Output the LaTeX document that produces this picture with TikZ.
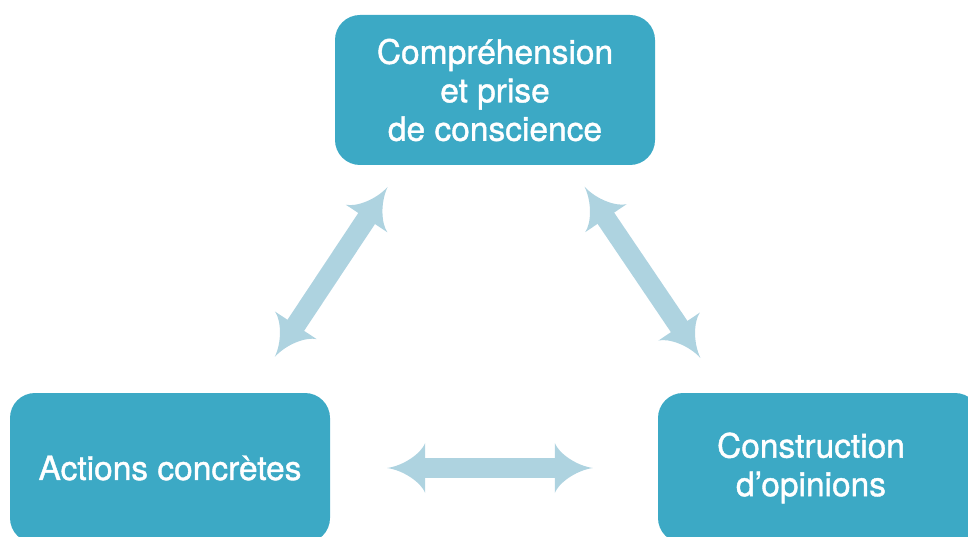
\documentclass[tikz,border=0pt]{standalone}
\usepackage{fontspec}
\setmainfont{TeX Gyre Heros}
\newfontface\stagefont{TeX Gyre Heros}[FakeBold=1.2]
\usetikzlibrary{arrows.meta}

\definecolor{boxblue}{HTML}{3CA9C5}
\definecolor{arrowblue}{HTML}{AED3E0}

% flared arrow head with concave sides
\pgfdeclarearrow{
  name = Flare,
  parameters = {\the\pgfarrowlength,\the\pgfarrowwidth},
  setup code = {
    \pgfarrowssettipend{0pt}
    \pgfarrowssetbackend{-\pgfarrowlength}
    \pgfarrowssetlineend{-.95\pgfarrowlength}
    \pgfarrowshullpoint{0pt}{0pt}
    \pgfarrowsupperhullpoint{-\pgfarrowlength}{.5\pgfarrowwidth}
    \pgfarrowssavethe\pgfarrowlength
    \pgfarrowssavethe\pgfarrowwidth
  },
  drawing code = {
    \pgfpathmoveto{\pgfpointorigin}
    \pgfpathcurveto{\pgfpoint{-.45\pgfarrowlength}{.05\pgfarrowwidth}}{\pgfpoint{-.9\pgfarrowlength}{.3\pgfarrowwidth}}{\pgfpoint{-\pgfarrowlength}{.5\pgfarrowwidth}}
    \pgfpathlineto{\pgfpoint{-\pgfarrowlength}{-.5\pgfarrowwidth}}
    \pgfpathcurveto{\pgfpoint{-.9\pgfarrowlength}{-.3\pgfarrowwidth}}{\pgfpoint{-.45\pgfarrowlength}{-.05\pgfarrowwidth}}{\pgfpointorigin}
    \pgfpathclose
    \pgfusepathqfill
  },
  defaults = {length = 38pt, width = 50pt}
}

\tikzset{
  stage/.style={fill=boxblue, rounded corners=25pt, text=white, align=center,
    minimum width=320pt, minimum height=150pt,
    font=\stagefont\fontsize{33.5}{38.5}\selectfont},
  link/.style={color=arrowblue, line width=20pt, Flare-Flare}
}

\begin{document}
\begin{tikzpicture}[x=1pt,y=1pt]

\useasboundingbox (0,0) rectangle (968,536);

\node [stage] (understand) at (495,446) {Compréhension\\et prise\\de conscience};
\node [stage] (actions) at (170,68) {Actions concrètes};
\node [stage, minimum width=322pt] (opinions) at (819,68) {Construction\hspace*{16pt}\\d’opinions\hspace*{16pt}};

\draw [link, shorten <=26pt, shorten >=43pt] ([xshift=-93pt]understand.south) -- ([xshift=81pt]actions.north);
\draw [link, shorten <=26pt, shorten >=42pt] ([xshift=75pt]understand.south) -- ([xshift=-95pt]opinions.north);
\draw [link, shorten <=57pt, shorten >=65pt] (actions.east) -- (opinions.west);

\end{tikzpicture}
\end{document}
